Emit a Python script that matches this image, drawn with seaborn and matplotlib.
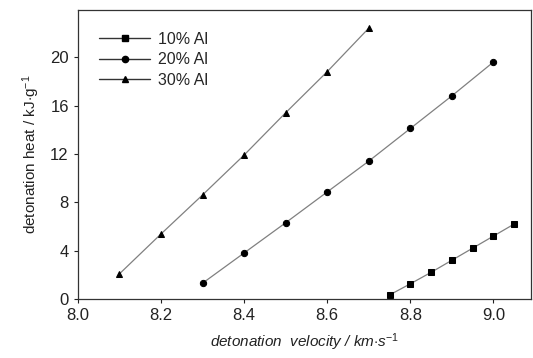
import matplotlib
matplotlib.use("Agg")
import matplotlib.pyplot as plt
import seaborn as sns
import pandas as pd
from matplotlib.lines import Line2D

x10 = [8.75, 8.80, 8.85, 8.90, 8.95, 9.00, 9.05]
y10 = [0.33, 1.25, 2.2, 3.2, 4.2, 5.2, 6.2]
x20 = [8.3, 8.4, 8.5, 8.6, 8.7, 8.8, 8.9, 9.0]
y20 = [1.3, 3.8, 6.3, 8.85, 11.4, 14.1, 16.8, 19.6]
x30 = [8.1, 8.2, 8.3, 8.4, 8.5, 8.6, 8.7]
y30 = [2.07, 5.37, 8.6, 11.9, 15.4, 18.8, 22.4]
series = ["10% Al", "20% Al", "30% Al"]
xticks = [8.0, 8.2, 8.4, 8.6, 8.8, 9.0]
yticks = [0, 4, 8, 12, 16, 20]

rows = []
for name, xs, ys in zip(series, [x10, x20, x30], [y10, y20, y30]):
    for a, b in zip(xs, ys):
        rows.append({"v": a, "q": b, "s": name})
df = pd.DataFrame(rows)

sns.set_style("ticks")
plt.rcParams["font.family"] = ["Liberation Sans", "DejaVu Sans"]
plt.rcParams["mathtext.fontset"] = "custom"
plt.rcParams["mathtext.rm"] = "Liberation Sans"
plt.rcParams["mathtext.it"] = "Liberation Sans:italic"

fig = plt.figure(figsize=(5.33, 3.58), dpi=100)
ax = fig.add_axes([0.146, 0.165, 0.85, 0.807])

sns.lineplot(data=df, x="v", y="q", hue="s", style="s",
             palette={s: "#808080" for s in series},
             markers={"10% Al": "s", "20% Al": "o", "30% Al": "^"},
             dashes=False, linewidth=0.9, markersize=4.5,
             markeredgecolor="black", markerfacecolor="black",
             ax=ax, legend=False, sort=False)

handles = [Line2D([], [], color="#333333", lw=1.0, marker=m, markersize=4.5,
                  markerfacecolor="black", markeredgecolor="black")
           for m in ["s", "o", "^"]]
ax.legend(handles, series, loc="upper left", frameon=False, fontsize=11.5,
          bbox_to_anchor=(0.015, 0.975), handlelength=3.2, labelspacing=0.35,
          handletextpad=0.5)

ax.set_xlim(8.0, 9.09)
ax.set_ylim(0, 23.9)
ax.set_xticks(xticks)
ax.set_yticks(yticks)
ax.set_xticklabels([f"{t:.1f}" for t in xticks], fontsize=12)
ax.set_yticklabels([str(t) for t in yticks], fontsize=12)
ax.tick_params(direction="out", length=3, width=0.8, colors="#222222")
for sp in ax.spines.values():
    sp.set_visible(True)
    sp.set_linewidth(0.9)
    sp.set_color("#333333")

ax.set_xlabel(r"detonation  velocity / km$\cdot$s$^{-1}$", fontsize=11,
              style="italic", color="#222222", labelpad=6)
ax.set_ylabel(r"detonation heat / kJ$\cdot$g$^{-1}$", fontsize=11,
              color="#222222", labelpad=6)

fig.savefig("out.png", dpi=100)
